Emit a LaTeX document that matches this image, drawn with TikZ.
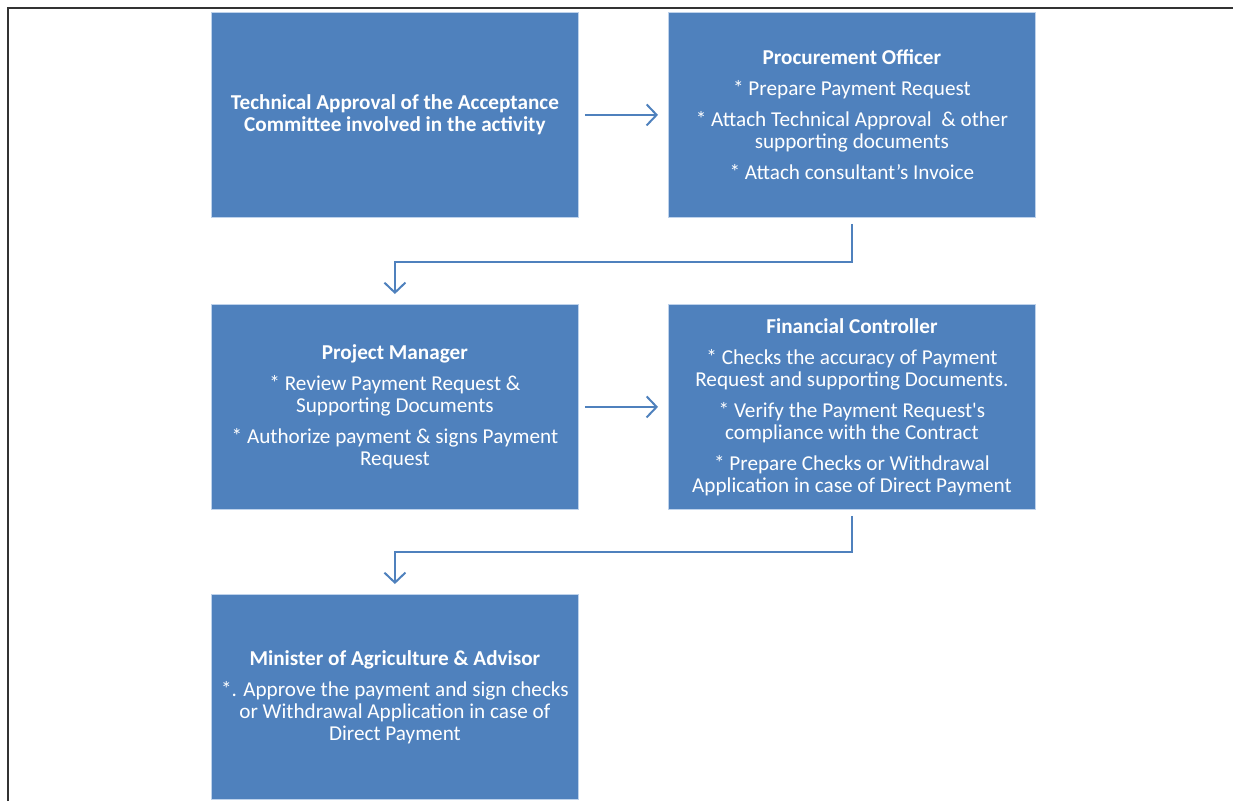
\documentclass[tikz,border=0pt]{standalone}
\usepackage{fontspec}
\setmainfont{Carlito}[Ligatures=TeXOff]
\usetikzlibrary{arrows.meta}
\definecolor{boxblue}{RGB}{79,129,189}
\definecolor{boxedge}{RGB}{190,210,235}
\begin{document}
\begin{tikzpicture}[x=1pt,y=-1pt,
  box/.style={fill=boxblue, draw=boxedge, line width=0.8pt, minimum width=367pt,
    minimum height=205pt, anchor=north west, text=white, align=center,
    font=\fontsize{21.2}{22}\selectfont, inner sep=0pt},
  conn/.style={draw=boxblue, line width=2pt, -{Straight Barb[length=10pt,width=21pt,line width=2pt]}},
  frame/.style={draw=black!80, line width=1.5pt}]
\useasboundingbox (0,0) rectangle (1234,801);
\draw[frame] (8,801) -- (8,8) -- (1233,8);
\node[box] (b1) at (211,12) {\textbf{Technical Approval of the Acceptance}\\\textbf{Committee involved in the activity}};
\node[box] (b2) at (668,12) {\textbf{Procurement Officer}\\[9pt]* Prepare Payment Request\\[9pt]* Attach Technical Approval \ \& other\\supporting documents\\[9pt]* Attach consultant’s Invoice};
\node[box] (b3) at (211,304) {\textbf{Project Manager}\\[9pt]* Review Payment Request \&\\Supporting Documents\\[9pt]* Authorize payment \& signs Payment\\Request};
\node[box] (b4) at (668,304) {\textbf{Financial Controller}\\[9pt]* Checks the accuracy of Payment\\Request and supporting Documents.\\[9pt]* Verify the Payment Request's\\compliance with the Contract\\[9pt]* Prepare Checks or Withdrawal\\Application in case of Direct Payment};
\node[box] (b5) at (211,594) {\textbf{Minister of Agriculture \& Advisor}\\[9pt]*. Approve the payment and sign checks\\or Withdrawal Application in case of\\Direct Payment};
\draw[conn] ([xshift=6pt]b1.east) -- ([xshift=-10pt]b2.west);
\draw[conn] ([xshift=6pt]b3.east) -- ([xshift=-10pt]b4.west);
\draw[conn] ([yshift=-6pt]b2.south) -- ++(0,38) -| ([yshift=10pt]b3.north);
\draw[conn] ([yshift=-6pt]b4.south) -- ++(0,36) -| ([yshift=10pt]b5.north);
\end{tikzpicture}
\end{document}
